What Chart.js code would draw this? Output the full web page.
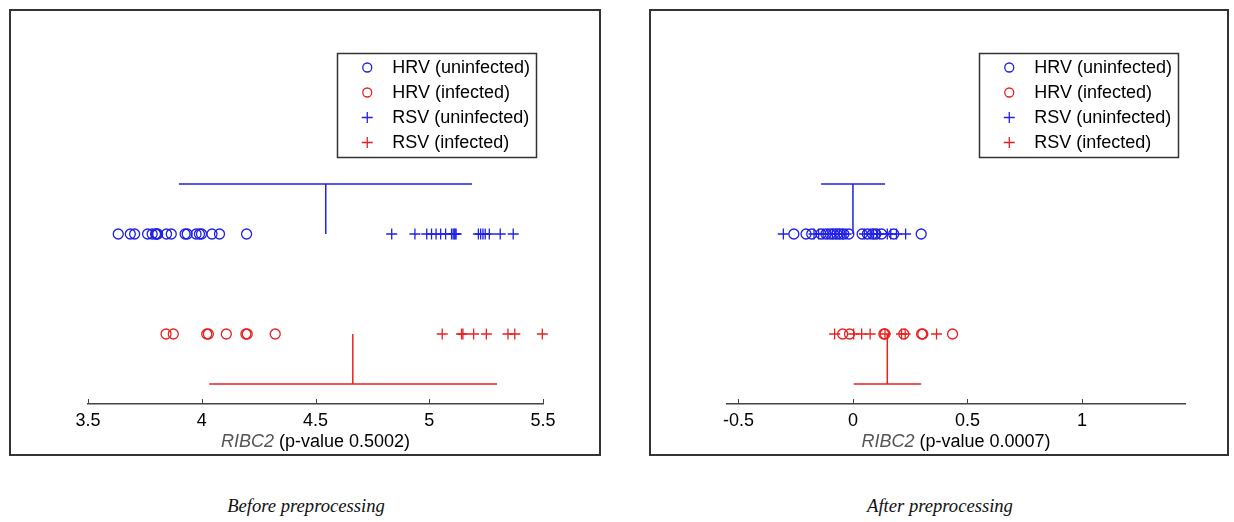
<!DOCTYPE html>
<html>
<head>
<meta charset="utf-8">
<script src="https://cdn.jsdelivr.net/npm/chart.js@4.4.1/dist/chart.umd.min.js"></script>
<style>
  html, body { margin: 0; padding: 0; background: #ffffff; }
  body { width: 1234px; height: 522px; position: relative; overflow: hidden; }
  .frame { position: absolute; border: 2px solid #333; box-sizing: border-box; }
  canvas { position: absolute; }
  .caption { position: absolute; font-family: "Liberation Serif", "Times New Roman", serif; font-style: italic;
             font-size: 18.6px; color: #111; text-align: center; width: 400px; line-height: 24px; }
</style>
</head>
<body>
<div class="frame" style="left:9px; top:9px; width:592px; height:447px;"></div>
<div class="frame" style="left:649px; top:9px; width:580px; height:447px;"></div>
<canvas id="before" width="620" height="470" style="left:0px; top:0px;"></canvas>
<canvas id="after" width="594" height="470" style="left:640px; top:0px;"></canvas>
<div class="caption" id="cap0" style="left:106px; top:494px;"></div>
<div class="caption" id="cap1" style="left:740px; top:494px;"></div>
<script>
// ---------- data ----------
const categories = ['HRV (uninfected)', 'HRV (infected)', 'RSV (uninfected)', 'RSV (infected)'];
const geneName = 'RIBC2';
const pValues = ['0.5002', '0.0007'];
const captions = ['Before preprocessing', 'After preprocessing'];
const rowY = [2, 1, 2, 1];          // row of each category
const barY = [2.5, 0.5];             // uninfected bar (above), infected bar (below)

// Before preprocessing
const hrvUninfBefore = [3.633, 3.686, 3.705, 3.762, 3.782, 3.797, 3.801, 3.806, 3.845, 3.866, 3.927, 3.936, 3.975, 3.990, 3.999, 4.045, 4.078, 4.197];
const hrvInfBefore = [3.843, 3.875, 4.022, 4.029, 4.108, 4.194, 4.200, 4.323];
const rsvUninfBefore = [4.835, 4.937, 4.989, 5.010, 5.030, 5.050, 5.072, 5.098, 5.105, 5.110, 5.114, 5.118, 5.216, 5.226, 5.236, 5.246, 5.264, 5.312, 5.369];
const rsvInfBefore = [5.057, 5.142, 5.148, 5.195, 5.251, 5.346, 5.376, 5.497];
const uninfBarBefore = [3.900, 4.545, 5.188];   // low, centre, high
const infBarBefore = [4.033, 4.664, 5.298];
const ticksBefore = [3.5, 4, 4.5, 5, 5.5];
const rangeBefore = [3.5, 5.5];

// After preprocessing
const hrvUninfAfter = [-0.258, -0.205, -0.180, -0.140, -0.118, -0.100, -0.085, -0.070, -0.055, -0.040, -0.018, 0.040, 0.063, 0.085, 0.100, 0.125, 0.178, 0.298];
const hrvInfAfter = [-0.045, -0.015, 0.135, 0.140, 0.222, 0.300, 0.305, 0.435];
const rsvUninfAfter = [-0.304, -0.170, -0.150, -0.130, -0.110, -0.090, -0.075, -0.060, -0.045, -0.030, 0.050, 0.075, 0.090, 0.105, 0.115, 0.150, 0.165, 0.190, 0.230];
const rsvInfAfter = [-0.080, 0.003, 0.038, 0.075, 0.140, 0.212, 0.228, 0.365];
const uninfBarAfter = [-0.139, 0.000, 0.140];
const infBarAfter = [0.003, 0.150, 0.298];
const ticksAfter = [-0.5, 0, 0.5, 1];
const rangeAfter = [-0.55, 1.45];

// ---------- styles ----------
const BLUE = '#2020e6';
const RED = '#ea2020';
const catColor = [BLUE, RED, BLUE, RED];
const catStyle = ['circle', 'circle', 'cross', 'cross'];
const FONT = '"Liberation Sans", Arial, Helvetica, sans-serif';
const FSIZE = 18;

document.getElementById('cap0').textContent = captions[0];
document.getElementById('cap1').textContent = captions[1];

const decor = {
  id: 'decor',
  afterDraw(chart, args, opts) {
    const ctx = chart.ctx;
    const xs = chart.scales.x;
    const area = chart.chartArea;
    ctx.save();
    // upward tick marks
    ctx.strokeStyle = '#444';
    ctx.lineWidth = 1;
    opts.ticks.forEach(v => {
      const px = Math.round(xs.getPixelForValue(v)) + 0.5;
      ctx.beginPath();
      ctx.moveTo(px, area.bottom);
      ctx.lineTo(px, area.bottom - 5);
      ctx.stroke();
    });
    // axis title (mixed style)
    const cx = (area.left + area.right) / 2;
    const ty = area.bottom + 38;
    const fItal = 'italic ' + FSIZE + 'px ' + FONT;
    const fNorm = FSIZE + 'px ' + FONT;
    const rest = ' (p-value ' + opts.pvalue + ')';
    ctx.font = fItal; const w1 = ctx.measureText(geneName).width;
    ctx.font = fNorm; const w2 = ctx.measureText(rest).width;
    let sx = cx - (w1 + w2) / 2;
    ctx.textBaseline = 'middle';
    ctx.textAlign = 'left';
    ctx.font = fItal; ctx.fillStyle = '#555'; ctx.fillText(geneName, sx, ty);
    ctx.font = fNorm; ctx.fillStyle = '#000'; ctx.fillText(rest, sx + w1, ty);
    // legend box
    ctx.font = fNorm;
    let maxW = 0;
    categories.forEach(c => { maxW = Math.max(maxW, ctx.measureText(c).width); });
    const bw = 55 + maxW + 6;
    const bh = 104;
    const br = area.right - 7;
    const bl = br - bw;
    const bt = area.top + 19;
    ctx.strokeStyle = '#333';
    ctx.lineWidth = 1.5;
    ctx.strokeRect(Math.round(bl) + 0.5, bt + 0.5, Math.round(bw), bh);
    categories.forEach((c, i) => {
      const y = bt + 14.5 + i * 25;
      const mx = bl + 30;
      ctx.strokeStyle = catColor[i];
      ctx.lineWidth = 1.3;
      ctx.beginPath();
      if (catStyle[i] === 'circle') {
        ctx.arc(mx, y, 4.5, 0, Math.PI * 2);
      } else {
        ctx.moveTo(mx - 5.5, y); ctx.lineTo(mx + 5.5, y);
        ctx.moveTo(mx, y - 5.5); ctx.lineTo(mx, y + 5.5);
      }
      ctx.stroke();
      ctx.fillStyle = '#000';
      ctx.fillText(c, bl + 55, y + 0.5);
    });
    ctx.restore();
  }
};

function pointSet(label, values, idx) {
  return {
    label: label,
    data: values.map(v => ({ x: v, y: rowY[idx] })),
    pointStyle: catStyle[idx],
    pointRadius: catStyle[idx] === 'circle' ? 5 : 5.5,
    pointBorderWidth: 1.3,
    pointBorderColor: catColor[idx],
    pointBackgroundColor: 'rgba(0,0,0,0)',
    borderColor: catColor[idx],
    showLine: false,
    clip: false
  };
}
function segment(points, color) {
  return {
    label: '',
    data: points,
    showLine: true,
    borderColor: color,
    borderWidth: 1.5,
    pointRadius: 0,
    clip: false
  };
}

function buildChart(id, sets, uBar, iBar, ticks, range, pvalue, pad) {
  const datasets = [
    segment([{ x: uBar[0], y: barY[0] }, { x: uBar[2], y: barY[0] }], BLUE),
    segment([{ x: uBar[1], y: barY[0] }, { x: uBar[1], y: rowY[0] }], BLUE),
    segment([{ x: iBar[0], y: barY[1] }, { x: iBar[2], y: barY[1] }], RED),
    segment([{ x: iBar[1], y: barY[1] }, { x: iBar[1], y: rowY[1] }], RED),
    pointSet(categories[0], sets[0], 0),
    pointSet(categories[1], sets[1], 1),
    pointSet(categories[2], sets[2], 2),
    pointSet(categories[3], sets[3], 3)
  ];
  return new Chart(document.getElementById(id), {
    type: 'scatter',
    data: { datasets },
    options: {
      responsive: false,
      animation: false,
      devicePixelRatio: 1,
      layout: { padding: pad },
      plugins: {
        legend: { display: false },
        tooltip: { enabled: false },
        decor: { ticks: ticks, pvalue: pvalue }
      },
      scales: {
        x: {
          type: 'linear',
          min: range[0],
          max: range[1],
          afterBuildTicks: s => { s.ticks = ticks.map(v => ({ value: v })); },
          afterFit: s => { s.height = 50; },
          grid: { display: false, drawTicks: false },
          border: { display: true, color: '#444', width: 1.5 },
          ticks: {
            padding: 6,
            color: '#000',
            font: { family: FONT, size: FSIZE },
            maxRotation: 0,
            autoSkip: false,
            callback: v => String(v)
          }
        },
        y: {
          type: 'linear',
          display: false,
          min: 0.3,
          max: 4.0
        }
      }
    },
    plugins: [decor]
  });
}

buildChart('before', [hrvUninfBefore, hrvInfBefore, rsvUninfBefore, rsvInfBefore],
  uninfBarBefore, infBarBefore, ticksBefore, rangeBefore, pValues[0],
  { left: 88, right: 77, top: 34, bottom: 16 });
buildChart('after', [hrvUninfAfter, hrvInfAfter, rsvUninfAfter, rsvInfAfter],
  uninfBarAfter, infBarAfter, ticksAfter, rangeAfter, pValues[1],
  { left: 87, right: 49, top: 34, bottom: 16 });
</script>
</body>
</html>
